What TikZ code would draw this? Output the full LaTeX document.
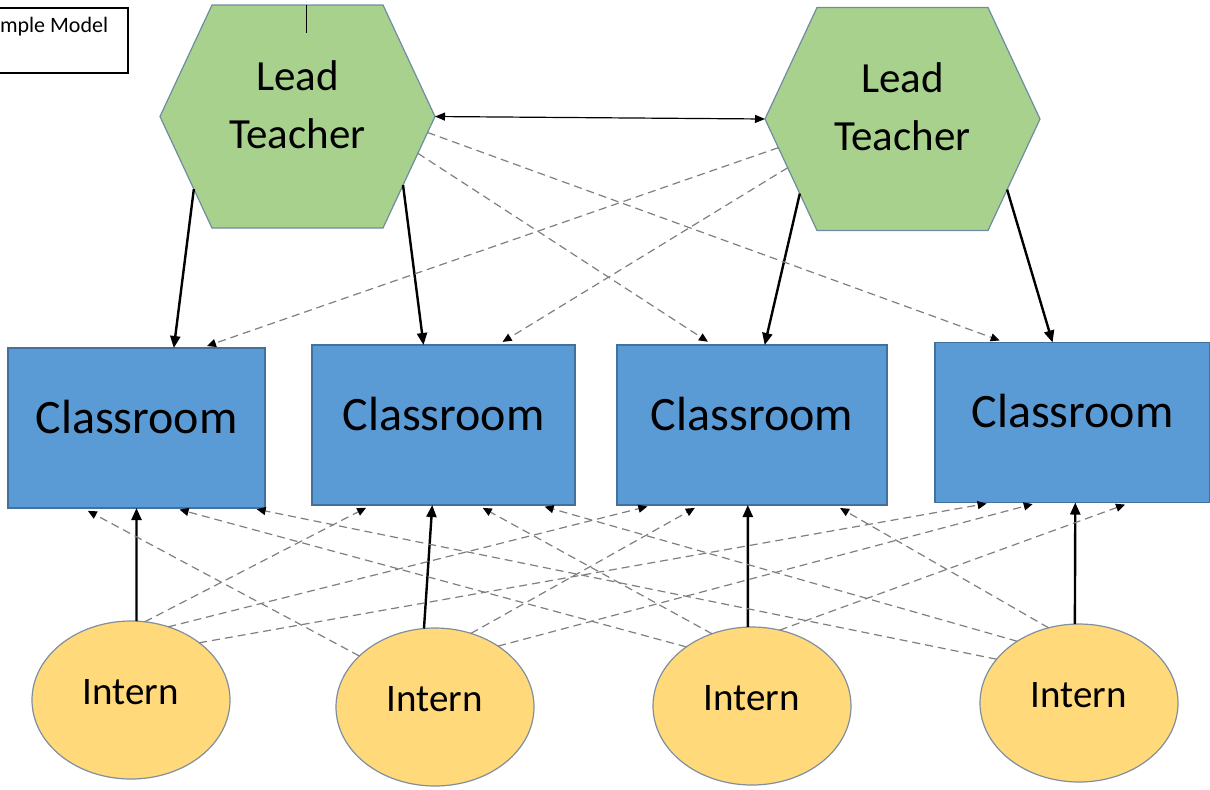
\documentclass[tikz,border=0pt]{standalone}
\usepackage{fontspec}
\setmainfont{Carlito}
\usepackage{tikz,tkz-graph}
\usetikzlibrary{shapes.symbols,shapes.geometric,arrows.meta}
\definecolor{leadFill}{HTML}{A9D18E}
\definecolor{leadLine}{HTML}{6E8CA0}
\definecolor{classFill}{HTML}{5B9BD5}
\definecolor{classLine}{HTML}{41719C}
\definecolor{internFill}{HTML}{FFD97A}
\definecolor{internLine}{HTML}{7F8FA0}
\definecolor{dashGray}{HTML}{7F7F7F}
\tikzstyle{leadStyle}=[shape = signal, signal to = east and west, signal pointer angle = 130, minimum width = 137.5pt, minimum height = 111.5pt, inner sep = 0pt, fill = leadFill, draw = leadLine, line width = 0.6pt, align = center, font = \fontsize{21.5}{29}\selectfont, text depth = 12pt]
\tikzstyle{classStyle}=[shape = rectangle, minimum height = 80pt, fill = classFill, draw = classLine, line width = 0.6pt, font = \fontsize{24}{29}\selectfont, text height = 18pt, text depth = 12.6pt]
\tikzstyle{internStyle}=[shape = ellipse, minimum width = 99pt, minimum height = 79pt, inner sep = 0pt, fill = internFill, draw = internLine, line width = 0.6pt, font = \fontsize{19.5}{24}\selectfont, text height = 14.6pt, text depth = 9.8pt]
\tikzstyle{modelBox}=[shape = rectangle, draw, line width = 0.7pt, inner xsep = 10pt, inner ysep = 4pt, font = \fontsize{11}{13}\selectfont, text height = 8pt, text depth = 16.5pt]

\begin{document}
\begin{tikzpicture}[x = 0.5pt, y = -0.5pt]
\tikzstyle{VertexStyle} = []
\tikzstyle{EdgeStyle} = []
\tikzstyle{linkSolid}=[draw = black, line width = 1.2pt, -{Triangle[length=6pt, width=5pt]}]
\tikzstyle{linkBoth}=[draw = black, line width = 0.6pt, {Triangle[length=5pt, width=4pt]}-{Triangle[length=5pt, width=4pt]}]
\tikzstyle{linkDash}=[draw = dashGray, line width = 0.6pt, dash pattern = on 4pt off 2.5pt, -{Triangle[length=4.5pt, width=4pt, color=black]}, shorten >= 3pt]
\useasboundingbox (0,0) rectangle (1210,789);
\Vertex[style = modelBox, x = 46.5, y = 40.5, L = {Simple Model}]{model}
\Vertex[style = leadStyle, x = 297.5, y = 116.5, L = {Lead\\Teacher}]{lt1}
\Vertex[style = leadStyle, x = 902.5, y = 119, L = {Lead\\Teacher}]{lt2}
\Vertex[style = {classStyle, minimum width = 128.5pt}, x = 136.5, y = 428, L = {Classroom}]{c1}
\Vertex[style = {classStyle, minimum width = 131.5pt}, x = 443.5, y = 425, L = {Classroom}]{c2}
\Vertex[style = {classStyle, minimum width = 135pt}, x = 752, y = 425, L = {Classroom}]{c3}
\Vertex[style = {classStyle, minimum width = 137.5pt}, x = 1072.5, y = 422.5, L = {Classroom}]{c4}
\Vertex[style = internStyle, x = 131, y = 700, L = {Intern}]{i1}
\Vertex[style = internStyle, x = 435, y = 707, L = {Intern}]{i2}
\Vertex[style = internStyle, x = 752, y = 706, L = {Intern}]{i3}
\Vertex[style = internStyle, x = 1079, y = 703, L = {Intern}]{i4}
\draw[line width = 0.4pt] ([xshift = 4.25pt]lt1.north) -- ++(0,28);
\Edge[style = linkBoth](lt1.east)(lt2.west)
\Edge[style = linkSolid](lt1.-145)(c1.65.5)
\Edge[style = linkSolid](lt1.-33)(c2.104.5)
\Edge[style = linkSolid](lt2.-144)(c3.81)
\Edge[style = linkSolid](lt2.-34)(c4.104.3)
\Edge[style = linkDash](lt1.-17.4)(c3.116.6)
\Edge[style = linkDash](lt1.-7)(c4.130.8)
\Edge[style = linkDash](lt2.-167.5)(c1.51.6)
\Edge[style = linkDash](lt2.-157)(c2.56.2)
\Edge[style = linkSolid](i1.86.4)(c1.-90)
\Edge[style = linkSolid](i2.98)(c2.-98)
\Edge[style = linkSolid](i3.93)(c3.-93)
\Edge[style = linkSolid](i4.93)(c4.-88)
\Edge[style = linkDash](i1.80)(c2.-132)
\Edge[style = linkDash](i1.63)(c3.-141)
\Edge[style = linkDash](i1.40)(c4.-135)
\Edge[style = linkDash](i2.146)(c1.-124)
\Edge[style = linkDash](i2.64)(c3.-123)
\Edge[style = linkDash](i2.44)(c4.-113)
\Edge[style = linkDash](i3.138)(c1.-65.5)
\Edge[style = linkDash](i3.119)(c2.-67)
\Edge[style = linkDash](i3.70)(c4.-54.5)
\Edge[style = linkDash](i4.152)(c1.-35)
\Edge[style = linkDash](i4.135)(c2.-40.5)
\Edge[style = linkDash](i4.112)(c3.-44)
\end{tikzpicture}
\end{document}
